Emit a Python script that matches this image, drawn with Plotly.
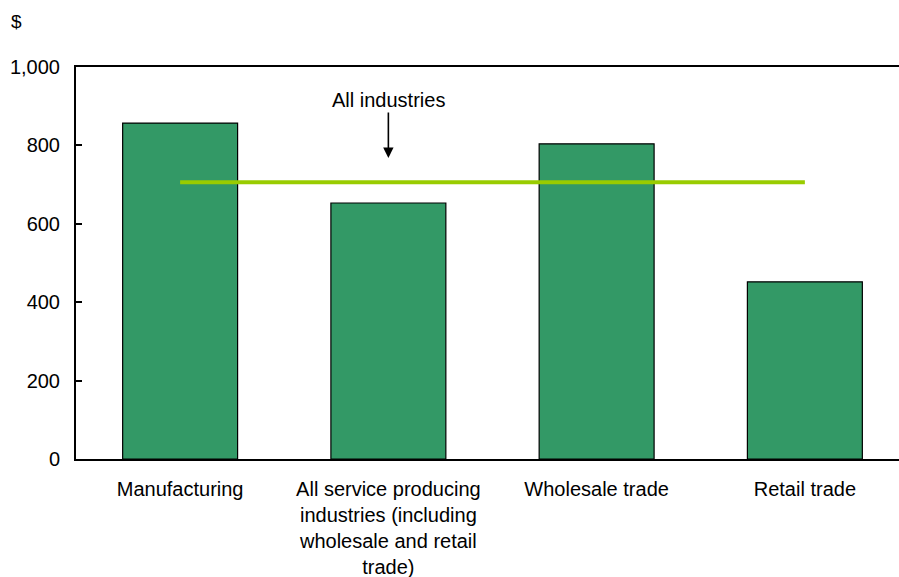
import plotly.graph_objects as go

categories = [
    "Manufacturing",
    "All service producing<br>industries (including<br>wholesale and retail<br>trade)",
    "Wholesale trade",
    "Retail trade",
]
values = [857, 653, 804, 452]
all_industries = 706
y_ticks = [0, 200, 400, 600, 800, 1000]
y_tick_labels = ["0", "200", "400", "600", "800", "1,000"]

FONT = "Liberation Sans, Arial, sans-serif"

fig = go.Figure()
fig.add_trace(go.Bar(
    x=categories, y=values,
    marker=dict(color="#339966", line=dict(color="#000000", width=1.2)),
    width=0.552, showlegend=False, hoverinfo="x+y",
))
fig.add_trace(go.Scatter(
    x=[categories[0], categories[-1]], y=[all_industries, all_industries],
    mode="lines", line=dict(color="#99CC00", width=4),
    showlegend=False, hoverinfo="y",
))
fig.add_annotation(
    x=categories[1], y=768, xref="x", yref="y",
    text="All industries", showarrow=True,
    ax=0, ay=-58, arrowhead=2, arrowsize=1.3, arrowwidth=1.6, arrowcolor="#000000",
    font=dict(family=FONT, size=20, color="#000000"),
)
fig.add_annotation(
    xref="paper", yref="paper", x=-0.082, y=1.115, xanchor="left", yanchor="middle",
    text="$", showarrow=False,
    font=dict(family=FONT, size=19, color="#000000"),
)

fig.update_layout(
    template="none",
    width=899, height=577,
    margin=dict(l=76, r=0, t=67, b=118, autoexpand=False),
    paper_bgcolor="white", plot_bgcolor="white",
    font=dict(family=FONT, size=20, color="#000000"),
)
fig.update_xaxes(
    range=[-0.5, 3.452], showline=True, linecolor="#000000", linewidth=2,
    mirror=True, ticks="", showgrid=False, tickangle=0, automargin=False,
    ticklabelstandoff=11, zeroline=False,
)
fig.update_yaxes(
    range=[0, 1000], tickvals=y_ticks, ticktext=y_tick_labels,
    showline=True, linecolor="#000000", linewidth=2, automargin=False, mirror=False,
    ticks="inside", ticklen=6, tickwidth=1.5, tickcolor="#000000",
    showgrid=False, zeroline=False, ticklabelstandoff=10,
)
fig.write_html(
    "out.html",
    config={"displayModeBar": False},
    post_script="document.body.style.margin='0';document.body.style.overflow='hidden';",
)
